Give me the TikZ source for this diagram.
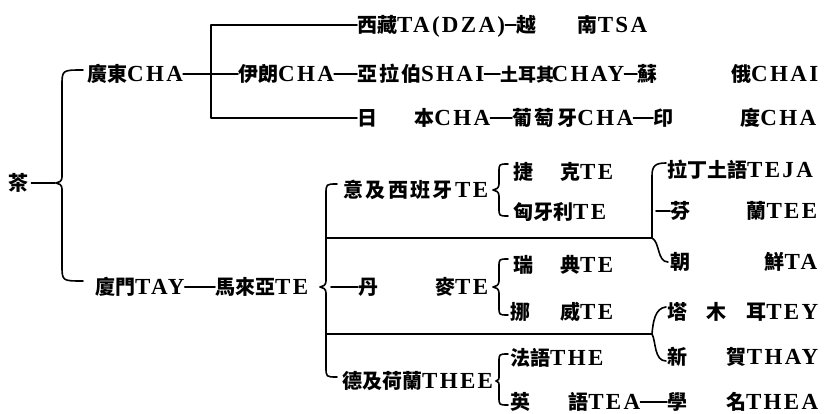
\documentclass[tikz,border=0pt]{standalone}
\usepackage{fontspec}
\setmainfont{Liberation Serif}[LetterSpace=10]
\newfontfamily\cjk{Noto Sans CJK TC}
\usetikzlibrary{calc}
\newcommand\zh[1]{{\cjk\fontsize{20}{20}\selectfont #1}}
\newcommand\zhs[1]{{\cjk\fontsize{18}{18}\selectfont #1}}
\newcommand\sj{\hskip 0pt plus 1fil minus 1fil\relax}
\newcommand\gp{\hskip 0pt plus 1fill\relax}
\newcommand\bx[2]{\hbox to #1pt{#2}}
\tikzset{
 lab/.style={anchor=west, inner sep=0pt, text height=17pt, text depth=2pt, font=\bfseries\fontsize{23}{23}\selectfont},
 ln/.style={line width=1.6pt, line cap=round, line join=round},
}
% hook x, top y, bottom y, vertical x, cusp x, cusp y, radius
\newcommand\cbr[7]{%
 \draw[ln] (#1,#2) .. controls (#4,#2) and (#4,#2) .. (#4,{#2+#7}) -- (#4,{#6-6}) .. controls (#4,{#6-2}) and ({#5+3},#6) .. (#5,#6) .. controls ({#5+3},#6) and (#4,{#6+2}) .. (#4,{#6+6}) -- (#4,{#3-#7}) .. controls (#4,#3) and (#4,#3) .. (#1,#3);}
\begin{document}
\begin{tikzpicture}[x=1pt,y=-1pt]
\fill[white] (0,0) rectangle (824,414);
\useasboundingbox (0,0) rectangle (824,414);
% nodes
\node[lab] (cha) at (8,183) {\zh{茶}};
\node[lab] (gd) at (87,74) {\zh{廣東}CHA};
\node[lab] (xz) at (357,25) {\zh{西藏}TA(DZA)};
\node[lab] (yn) at (516,25) {\bx{131}{\zh{越}\gp\zh{南}\sj TSA}};
\node[lab] (yl) at (238,74) {\zh{伊朗}CHA};
\node[lab] (yb) at (357,74) {\bx{127}{\zh{亞}\gp\zh{拉}\gp\zh{伯}\sj SHAI}};
\node[lab] (te) at (500,74) {\bx{124}{\zhs{土耳其}\sj CHAY}};
\node[lab] (su) at (637,74) {\bx{181}{\zh{蘇}\gp\zh{俄}\sj CHAI}};
\node[lab] (ri) at (357,118) {\bx{133}{\zh{日}\gp\zh{本}\sj CHA}};
\node[lab] (pt) at (512,118) {\bx{121}{\zh{葡}\gp\zh{萄}\gp\zh{牙}\sj CHA}};
\node[lab] (yd) at (653,118) {\bx{163}{\zh{印}\gp\zh{度}\sj CHA}};
\node[lab] (xm) at (95,287) {\zh{廈門}TAY};
\node[lab] (ml) at (215,287) {\zh{馬來亞}TE};
\node[lab] (yj) at (343,190) {\bx{145}{\zh{意}\sj\zh{及}\sj\zh{西}\sj\zh{班}\sj\zh{牙}\sj TE}};
\node[lab] (dm) at (358,287) {\bx{130}{\zh{丹}\gp\zh{麥}\sj TE}};
\node[lab] (dh) at (342,381) {\zh{德及荷蘭}THEE};
\node[lab] (jk) at (513,172) {\bx{100}{\zh{捷}\gp\zh{克}\sj TE}};
\node[lab] (xy) at (513,212) {\zh{匈牙利}TE};
\node[lab] (rd) at (513,265) {\bx{100}{\zh{瑞}\gp\zh{典}\sj TE}};
\node[lab] (nw) at (510,312) {\bx{103}{\zh{挪}\gp\zh{威}\sj TE}};
\node[lab] (fy) at (510,358) {\zh{法語}THE};
\node[lab] (yy) at (510,402) {\bx{130}{\zh{英}\gp\zh{語}\sj TEA}};
\node[lab] (xue) at (667,402) {\bx{151}{\zh{學}\gp\zh{名}\sj THEA}};
\node[lab] (la) at (667,170) {\zh{拉丁土語}TEJA};
\node[lab] (fl) at (670,211) {\bx{147}{\zh{芬}\gp\zh{蘭}\sj TEE}};
\node[lab] (cx) at (670,262) {\bx{147}{\zh{朝}\gp\zh{鮮}\sj TA}};
\node[lab] (tm) at (667,312) {\bx{151}{\zh{塔}\gp\zh{木}\gp\zh{耳}\sj TEY}};
\node[lab] (xh) at (667,357) {\bx{151}{\zh{新}\gp\zh{賀}\sj THAY}};
% coordinates
\coordinate (c0) at (55,183);
\coordinate (v1) at (211,118);
\coordinate (h1a) at (327,238);
\coordinate (h1b) at (652,238);
\coordinate (h2a) at (327,334);
\coordinate (h2b) at (652,334);
\coordinate (dmst) at (331,287);
% connectors
\draw[ln] ($(cha.east)+(3,0)$) -- (c0);
\cbr{83}{70}{281}{62}{56}{183}{16}
\draw[ln] (gd.east) -- (yl.west);
\draw[ln] (xz.west) -| (v1) -- (ri.west);
\draw[ln] (xz.east) -- (yn.west);
\draw[ln] (yl.east) -- (yb.west);
\draw[ln] (yb.east) -- (te.west);
\draw[ln] (te.east) -- (su.west);
\draw[ln] (ri.east) -- (pt.west);
\draw[ln] (pt.east) -- (yd.west);
\draw[ln] (xm.east) -- (ml.west);
\cbr{337}{184}{377}{326}{320}{287}{10}
\draw[ln] (dmst) -- (dm.west);
\draw[ln] (h1a) -- (h1b);
\draw[ln] (h2a) -- (h2b);
\cbr{508}{164}{216}{499}{493}{190}{8}
\cbr{508}{259}{315}{499}{493}{287}{8}
\cbr{508}{354}{405}{499}{496}{381}{8}
\draw[ln] (yy.east) -- (xue.west);
% right braces
\draw[ln] (h1b) -- (652,176) .. controls (652,166) and (655,163) .. (666,163);
\draw[ln] (h1b) .. controls (660,242) and (657,262) .. (668,262);
\draw[ln] (656,211) -- (fl.west);
\draw[ln] (h2b) .. controls (653,322) and (655,308) .. (666,307);
\draw[ln] (h2b) .. controls (656,341) and (654,361) .. (666,361);
\end{tikzpicture}
\end{document}
